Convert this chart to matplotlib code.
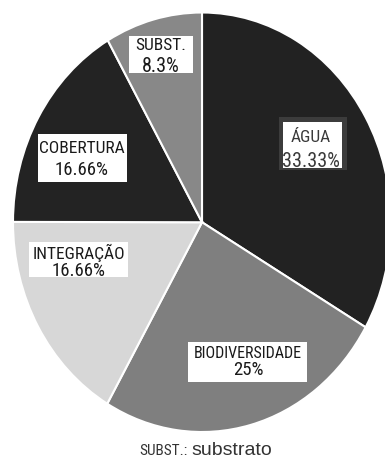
import matplotlib
matplotlib.use("Agg")
import matplotlib.pyplot as plt
from matplotlib.patches import Rectangle

plt.rcParams['font.family'] = ['Roboto Condensed', 'DejaVu Sans']
plt.rcParams['font.stretch'] = 'condensed'

# Data
categories = ['ÁGUA', 'BIODIVERSIDADE', 'INTEGRAÇÃO', 'COBERTURA', 'SUBST.']
shares = [33.33, 25, 16.66, 16.66, 8.3]
share_labels = ['33.33%', '25%', '16.66%', '16.66%', '8.3%']
colors = ['#222222', '#7f7f7f', '#d7d7d7', '#232323', '#888888']

W, H = 385, 458
fig = plt.figure(figsize=(W / 100, H / 100), dpi=100)
fig.patch.set_facecolor('white')


def fx(x):
    return x / W


def fy(y):
    return 1 - y / H


# Pie drawn in an axes stretched slightly taller than wide
left, right, top, bottom = 13, 391, 12.5, 432
ax = fig.add_axes([fx(left), fy(bottom), (right - left) / W, (bottom - top) / H])
ax.pie(shares, colors=colors, startangle=90, counterclock=False,
       wedgeprops=dict(edgecolor='white', linewidth=1.5))
ax.set_aspect('auto')
ax.set_xlim(-1, 1)
ax.set_ylim(-1, 1)
ax.axis('off')

# Label boxes: (x0, y0, x1, y1) in pixels, per category
boxes = {
    'ÁGUA': (283, 122, 342, 168),
    'BIODIVERSIDADE': (188, 342, 307, 382),
    'INTEGRAÇÃO': (29, 242, 128, 277),
    'COBERTURA': (38, 134, 127, 182),
    'SUBST.': (129, 36, 193, 73),
}
# (x centre, name baseline, value baseline, name size, value size, text colour)
text_layout = {
    'ÁGUA': (311, 142, 167, 12.5, 14.5, '#3a3a3a'),
    'BIODIVERSIDADE': (248, 357.5, 375, 11.5, 13.5, '#1a1a1a'),
    'INTEGRAÇÃO': (79, 259, 276, 12.5, 13.5, '#1a1a1a'),
    'COBERTURA': (82, 153, 175, 12.5, 13.5, '#1a1a1a'),
    'SUBST.': (161, 50, 72, 12.5, 14.5, '#1a1a1a'),
}

# Dark frame around the ÁGUA box
fig.patches.append(Rectangle((fx(279), fy(170)), (347 - 279) / W, (170 - 117) / H,
                             transform=fig.transFigure, facecolor='#3c3c3c',
                             edgecolor='none', zorder=3))

for name, value in zip(categories, share_labels):
    x0, y0, x1, y1 = boxes[name]
    fig.patches.append(Rectangle((fx(x0), fy(y1)), (x1 - x0) / W, (y1 - y0) / H,
                                 transform=fig.transFigure, facecolor='white',
                                 edgecolor='none', zorder=4))
    xc, b1, b2, s1, s2, col = text_layout[name]
    fig.text(fx(xc), fy(b1), name, ha='center', va='baseline',
             fontsize=s1, color=col, zorder=5)
    fig.text(fx(xc), fy(b2), value, ha='center', va='baseline',
             fontsize=s2, color=col, zorder=5)

# Abbreviation note
fig.text(fx(188), fy(455), 'SUBST.:', ha='right', va='baseline',
         fontsize=11, color='#333333')
fig.text(fx(191), fy(455), 'substrato', ha='left', va='baseline',
         fontsize=14, color='#333333', family=['Liberation Sans', 'DejaVu Sans'],
         fontstretch='normal')

fig.savefig('out.png', dpi=100, facecolor='white')
